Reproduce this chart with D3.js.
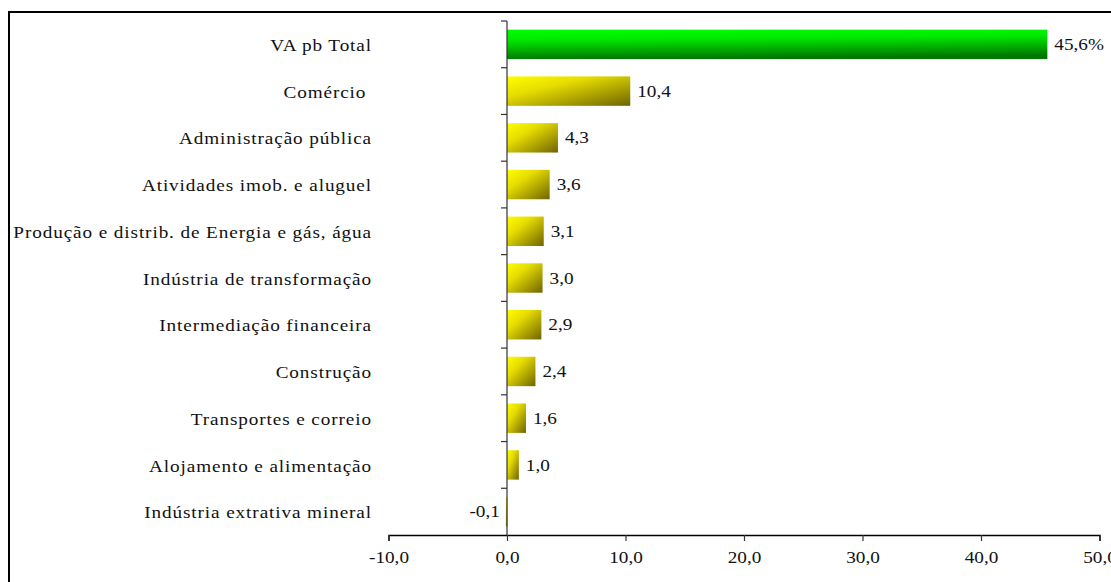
<!DOCTYPE html>
<html>
<head>
<meta charset="utf-8">
<script src="https://cdn.jsdelivr.net/npm/d3@7"></script>
<style>
  html, body { margin: 0; padding: 0; background: #fff; }
  svg { display: block; }
  text { font-family: "Liberation Serif", "Times New Roman", serif; fill: #111; }
</style>
</head>
<body>
<svg id="chart" width="1111" height="582"></svg>
<script>
// Contribution by sector (percentage points)
const categories = [
  "VA pb Total",
  "Comércio ",
  "Administração pública",
  "Atividades imob. e aluguel",
  "Produção e distrib. de Energia e gás, água",
  "Indústria de transformação",
  "Intermediação financeira",
  "Construção",
  "Transportes e correio",
  "Alojamento e alimentação",
  "Indústria extrativa mineral"
];
const values = [45.6, 10.4, 4.3, 3.6, 3.1, 3.0, 2.9, 2.4, 1.6, 1.0, -0.1];
const valueLabels = ["45,6%", "10,4", "4,3", "3,6", "3,1", "3,0", "2,9", "2,4", "1,6", "1,0", "-0,1"];
const xTicks = [-10, 0, 10, 20, 30, 40, 50];
const xTickLabels = ["-10,0", "0,0", "10,0", "20,0", "30,0", "40,0", "50,0"];

const FONT = "'Liberation Serif', 'Times New Roman', serif";
const STRETCH = 1.2; // wide-set serif lettering

const svg = d3.select("#chart");

// outer frame
svg.append("rect")
  .attr("x", 9).attr("y", 12)
  .attr("width", 1120).attr("height", 600)
  .attr("fill", "none").attr("stroke", "#000").attr("stroke-width", 2);

const x = d3.scaleLinear().domain([-10, 50]).range([388.5, 1099.5]);
const y = d3.scaleBand().domain(categories).range([21, 535]).paddingInner(0.37).paddingOuter(0.185);

// gradients
const defs = svg.append("defs");
const gy = defs.append("linearGradient").attr("id", "gradYellow")
  .attr("x1", 0).attr("y1", 0).attr("x2", 1).attr("y2", 1);
gy.append("stop").attr("offset", "0%").attr("stop-color", "#ffff00");
gy.append("stop").attr("offset", "35%").attr("stop-color", "#e6dc00");
gy.append("stop").attr("offset", "100%").attr("stop-color", "#6e6400");
const gg = defs.append("linearGradient").attr("id", "gradGreen")
  .attr("x1", 0).attr("y1", 0).attr("x2", 0.15).attr("y2", 1);
gg.append("stop").attr("offset", "0%").attr("stop-color", "#00ff00");
gg.append("stop").attr("offset", "35%").attr("stop-color", "#00e800");
gg.append("stop").attr("offset", "100%").attr("stop-color", "#007800");

const x0 = x(0);

// bars
svg.append("g").selectAll("rect")
  .data(categories)
  .join("rect")
  .attr("x", (d, i) => Math.min(x(values[i]), x0))
  .attr("y", d => y(d))
  .attr("width", (d, i) => Math.max(1.5, Math.abs(x(values[i]) - x0)))
  .attr("height", y.bandwidth())
  .attr("fill", (d, i) => i === 0 ? "url(#gradGreen)" : "url(#gradYellow)");

// value labels
svg.append("g").selectAll("text")
  .data(categories)
  .join("text")
  .attr("transform", (d, i) => {
    const tx = values[i] >= 0 ? x(values[i]) + 7 : x(values[i]) - 6;
    return `translate(${tx},${y(d) + y.bandwidth() / 2}) scale(${STRETCH},1)`;
  })
  .attr("dy", "0.35em")
  .attr("text-anchor", (d, i) => values[i] >= 0 ? "start" : "end")
  .attr("font-family", FONT)
  .attr("font-size", 16)
  .text((d, i) => valueLabels[i]);

// category labels (trailing spaces kept)
svg.append("g").selectAll("text")
  .data(categories)
  .join("text")
  .attr("transform", d => `translate(372,${y(d) + y.bandwidth() / 2 + 1}) scale(${STRETCH},1)`)
  .attr("dy", "0.35em")
  .attr("text-anchor", "end")
  .attr("font-family", FONT)
  .attr("font-size", 16)
  .attr("xml:space", "preserve")
  .style("white-space", "pre")
  .style("letter-spacing", "0.75px")
  .text(d => d);

// y axis line with ticks at band boundaries
const yAxis = svg.append("g");
yAxis.append("line")
  .attr("x1", x0).attr("x2", x0).attr("y1", 21).attr("y2", 535)
  .attr("stroke", "#333").attr("stroke-width", 1.2);
const bounds = categories.map(d => y(d) - y.step() * y.paddingInner() / 2);
yAxis.selectAll(".yt").data(bounds).join("line")
  .attr("x1", x0 - 6).attr("x2", x0)
  .attr("y1", d => d).attr("y2", d => d)
  .attr("stroke", "#333").attr("stroke-width", 1.2);

// x axis
const xAxis = svg.append("g").attr("transform", "translate(0,535)")
  .call(d3.axisBottom(x).tickValues(xTicks).tickFormat((d, i) => xTickLabels[i]).tickSizeOuter(0).tickSize(6).tickPadding(11));
xAxis.select(".domain").attr("stroke", "#000").attr("stroke-width", 1.5);
xAxis.selectAll(".tick line").attr("stroke", "#333").attr("stroke-width", 1.2);
xAxis.selectAll(".tick text")
  .attr("font-size", 16)
  .attr("font-family", FONT)
  .attr("transform", `scale(${STRETCH},1)`)
  .attr("fill", "#111");
</script>
</body>
</html>
